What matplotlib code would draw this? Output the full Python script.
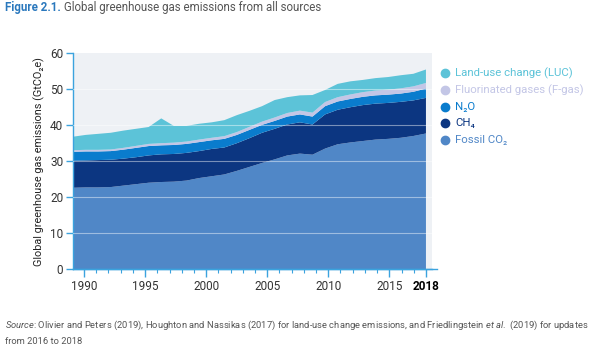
import numpy as np
import matplotlib
matplotlib.use("Agg")
import matplotlib.pyplot as plt
from matplotlib.lines import Line2D

plt.rcParams['font.family'] = ['Roboto', 'DejaVu Sans']
plt.rcParams['mathtext.fontset'] = 'custom'
plt.rcParams['mathtext.rm'] = 'Roboto'
plt.rcParams['mathtext.it'] = 'Roboto:italic'
plt.rcParams['mathtext.bf'] = 'Roboto:bold'

# data (GtCO2e)
years = np.arange(1990, 2019)
fossil_co2 = [22.6, 22.7, 22.7, 22.8, 23.2, 23.6, 24.0, 24.2, 24.3, 24.6,
              25.3, 25.8, 26.3, 27.3, 28.4, 29.5, 30.5, 31.6, 32.1, 31.8,
              33.5, 34.7, 35.2, 35.6, 36.0, 36.2, 36.5, 37.0, 37.7]
ch4 = [7.5, 7.5, 7.6, 7.6, 7.5, 7.5, 7.6, 7.7, 7.7, 7.7,
       7.5, 7.6, 7.5, 7.7, 8.0, 8.4, 8.5, 8.6, 8.7, 8.4,
       9.5, 9.6, 9.8, 10.0, 10.0, 10.0, 10.0, 9.9, 9.9]
n2o = [2.5, 2.5, 2.4, 2.4, 2.5, 2.6, 2.6, 2.5, 2.5, 2.5,
       2.5, 2.4, 2.4, 2.3, 2.3, 2.2, 2.2, 2.2, 2.2, 2.2,
       2.3, 2.3, 2.3, 2.3, 2.3, 2.3, 2.3, 2.4, 2.6]
fgas = [0.45, 0.45, 0.45, 0.45, 0.5, 0.55, 0.6, 0.6, 0.65, 0.65,
        0.7, 0.7, 0.75, 0.8, 0.85, 0.9, 0.95, 1.0, 1.05, 1.1,
        1.15, 1.2, 1.25, 1.3, 1.35, 1.4, 1.45, 1.5, 1.55]
luc = [3.75, 4.15, 4.45, 4.65, 4.8, 4.75, 4.7, 6.9, 4.65, 4.35,
       4.4, 4.3, 4.45, 4.7, 4.45, 4.3, 4.85, 4.4, 4.25, 4.9,
       3.35, 3.7, 3.65, 3.4, 3.45, 3.5, 3.65, 3.5, 3.75]

labels = ['Fossil CO₂', 'CH₄', 'N₂O', 'Fluorinated gases (F-gas)', 'Land-use change (LUC)']
colors = ['#5087c7', '#0c3681', '#0a7ccd', '#c3c6e6', '#5cc3d8']
text_colors = ['#5087c7', '#0c3681', '#0a7ccd', '#c3c6e6', '#5cc3d8']

tick_years = [1990, 1995, 2000, 2005, 2010, 2015, 2018]

fig = plt.figure(figsize=(6, 3.5), dpi=100)
ax = fig.add_axes([0.1217, 0.2314, 0.5983, 0.6163])
ax.set_facecolor('#eef1f5')

ax.stackplot(years, fossil_co2, ch4, n2o, fgas, luc, colors=colors, linewidth=0)

ax.set_xlim(1990, 2018.48)
ax.set_ylim(0, 60)
ax.set_yticks(range(0, 61, 10))
for y in range(10, 60, 10):
    ax.axhline(y, color='white', alpha=0.45, lw=0.8, zorder=3)

# tick marks (the labels in the original sit a little off the data years)
all_ticks = np.linspace(1990.8725, 2018, 29)
major_pos = [all_ticks[y - 1990] for y in tick_years]
ax.set_xticks(major_pos)
ax.set_xticklabels([str(y) for y in tick_years])
ax.set_xticks(all_ticks, minor=True)

for s in ['top', 'right']:
    ax.spines[s].set_visible(False)
axis_blue = '#3ba3de'
ax.spines['left'].set_color(axis_blue)
ax.spines['bottom'].set_color(axis_blue)
ax.spines['left'].set_linewidth(1)
ax.spines['bottom'].set_linewidth(1)
ax.add_line(Line2D([0, 1.014], [0, 0], transform=ax.transAxes, color=axis_blue,
                   lw=1, clip_on=False))

ax.tick_params(axis='x', which='major', length=6, width=1, color=axis_blue,
               labelsize=8.5, labelcolor='#333333', pad=2)
ax.tick_params(axis='x', which='minor', length=3, width=0.8, color=axis_blue)
ax.tick_params(axis='y', length=5, width=1, color=axis_blue,
               labelsize=8.5, labelcolor='#333333', pad=2)
lbl = ax.get_xticklabels()[-1]
lbl.set_fontweight('bold')
lbl.set_color('black')

ax.set_ylabel('Global greenhouse gas emissions (GtCO₂e)', fontsize=7.8,
              color='#222222', labelpad=4)

# legend
leg_x, leg_y0, leg_dy = 445 / 600, 1 - 73.3 / 350, 16.7 / 350
order = [4, 3, 2, 1, 0]
for i, k in enumerate(order):
    yy = leg_y0 - i * leg_dy
    fig.add_artist(Line2D([leg_x], [yy], marker='o', markersize=6,
                          color=colors[k], linestyle='none'))
    fig.text(leg_x + 10 / 600, yy, labels[k], color=text_colors[k],
             fontsize=8.2, va='center', ha='left')

# title
r = fig.canvas.get_renderer()
t1 = fig.text(5 / 600, 1 - 8 / 350, 'Figure 2.1.', fontsize=8.3, fontweight='bold',
              color='#2a78bd', va='center', ha='left')
bb = t1.get_window_extent(renderer=r)
fig.text(bb.x1 / fig.bbox.width + 3 / 600, 1 - 8 / 350,
         'Global greenhouse gas emissions from all sources', fontsize=8.3,
         color='#555555', va='center', ha='left')

# source
fig.text(5 / 600, 1 - 325 / 350,
         r'$\it{Source}$: Olivier and Peters (2019), Houghton and Nassikas (2017) for '
         r'land-use change emissions, and Friedlingstein $\it{et\ al.}$ (2019) for updates',
         fontsize=6.75, color='#555555', va='center', ha='left')
fig.text(5 / 600, 1 - 341 / 350, 'from 2016 to 2018', fontsize=6.75,
         color='#555555', va='center', ha='left')

fig.savefig('out.png', dpi=100)
